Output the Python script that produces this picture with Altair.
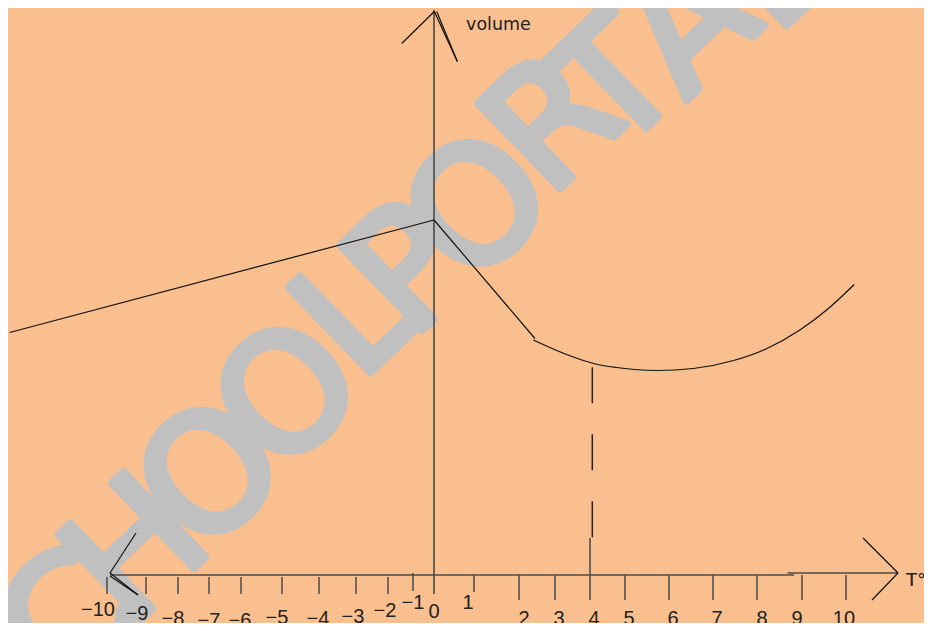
import altair as alt
import pandas as pd

# ---- drawing units: x = temperature-like units (y-axis at 0), y = volume units (x-axis at 0)
X_DOMAIN = [-10.34, 11.893]
Y_DOMAIN = [-0.96, 11.34]

# volume curve pieces
left_x = [-10.30, 0.0]
left_v = [4.85, 7.10]
drop_x = [0.0, 2.45]
drop_v = [7.10, 4.73]
curve_x = [2.41, 3.22, 3.87, 4.43, 5.41, 6.29, 7.27, 8.08, 8.88, 9.53, 10.20]
curve_v = [4.70, 4.41, 4.23, 4.15, 4.09, 4.13, 4.29, 4.53, 4.90, 5.30, 5.81]

# dashed guide at the minimum
dash_x = [3.842]
dash_top = [4.154]
dash_bot = [0.714]

# ticks on the temperature axis
tick_x = [-7.937, -6.990, -6.214, -5.461, -4.684, -3.689, -2.791, -1.893, -1.117,
          -0.510, 0.971, 2.063, 2.937, 3.786, 4.636, 5.704, 6.772, 7.840, 8.932, 10.0, 11.602]
tick_top = [-0.04] * 9 + [0.04, 0.0, 0.0, 0.0, 0.74, 0.0, 0.0, 0.0, 0.0, 0.0, 0.0, 0.04]
tick_bot = [-0.38] * 9 + [-0.32, -0.34] + [-0.5] * 9 + [-0.22]

# tick labels (hand placed in the original drawing)
label_text = ["−10", "−9", "−8", "−7", "−6", "−5", "−4", "−3", "−2", "−1", "0",
              "1", "2", "3", "4", "5", "6", "7", "8", "9", "10"]
label_x = [-8.155, -7.209, -6.335, -5.461, -4.709, -3.811, -2.816, -1.966, -1.189, -0.510, 0.0,
           0.825, 2.184, 3.034, 3.883, 4.733, 5.801, 6.869, 7.961, 8.811, 9.951]
label_y = [-0.70, -0.78, -0.87, -0.92, -0.92, -0.86, -0.88, -0.83, -0.72, -0.56, -0.74,
           -0.56, -0.88, -0.88, -0.88, -0.88, -0.88, -0.88, -0.88, -0.88, -0.88]

# axis lines
axis_x1 = [-7.864, 8.58, 0.0]
axis_y1 = [0.0, 0.04, -0.38]
axis_x2 = [8.74, 11.262, 0.0]
axis_y2 = [0.0, 0.04, 11.30]

# arrow heads
arrow_x1 = [-0.784, 0.008, 0.066, 10.413, 11.262, -7.233, -7.864, -7.864]
arrow_y1 = [10.63, 11.27, 11.27, 0.74, 0.04, 0.84, 0.04, -0.02]
arrow_x2 = [0.008, 0.566, 0.566, 11.262, 10.631, -7.864, -7.184, -7.184]
arrow_y2 = [11.27, 10.27, 10.27, 0.04, -0.50, 0.04, -0.40, -0.40]

# axis titles
title_text = ["volume", "T°C"]
title_x = [0.777, 11.456]
title_y = [10.9, 0.06]

# watermark
wm_letters = ["C", "H", "O", "O", "L", "P", "O", "R", "T", "A", "L"]
wm_x = [-8.84, -7.16, -5.34, -3.47, -1.85, -0.53, 1.14, 2.94, 4.47, 6.25, 8.25]
wm_y = [-1.0, 0.44, 1.94, 3.54, 5.16, 6.06, 7.30, 9.00, 9.76, 10.95, 12.10]

xs = alt.Scale(domain=X_DOMAIN, nice=False, zero=False)
ys = alt.Scale(domain=Y_DOMAIN, nice=False, zero=False)

def X(f="x"):
    return alt.X(f"{f}:Q", scale=xs, axis=None)

def Y(f="y"):
    return alt.Y(f"{f}:Q", scale=ys, axis=None)

wm_df = pd.DataFrame({"t": wm_letters, "x": wm_x, "y": wm_y})
watermark = alt.Chart(wm_df).mark_text(
    font="DejaVu Sans", fontSize=162, angle=316, align="center",
    baseline="middle", color="#c0c0c0", stroke="#c0c0c0", strokeWidth=8,
    strokeJoin="round"
).encode(x=X(), y=Y(), text="t:N")

axis_df = pd.DataFrame({"x": axis_x1, "y": axis_y1, "x2": axis_x2, "y2": axis_y2})
axes = alt.Chart(axis_df).mark_rule(color="#4a4a4a", strokeWidth=1.6).encode(
    x=X(), y=Y(), x2="x2:Q", y2="y2:Q")

arrow_df = pd.DataFrame({"x": arrow_x1, "y": arrow_y1, "x2": arrow_x2, "y2": arrow_y2})
arrows = alt.Chart(arrow_df).mark_rule(color="#111111", strokeWidth=1.2).encode(
    x=X(), y=Y(), x2="x2:Q", y2="y2:Q")

tick_df = pd.DataFrame({"x": tick_x, "y": tick_top, "y2": tick_bot})
ticks = alt.Chart(tick_df).mark_rule(color="#4a4a4a", strokeWidth=1.5).encode(
    x=X(), y=Y(), y2="y2:Q")

dash_df = pd.DataFrame({"x": dash_x, "y": dash_top, "y2": dash_bot})
dash = alt.Chart(dash_df).mark_rule(color="#222222", strokeWidth=1.5, strokeDash=[36, 31]).encode(
    x=X(), y=Y(), y2="y2:Q")

rows = []
for i, (a, b) in enumerate(zip(left_x, left_v)):
    rows.append({"seg": "a", "o": i, "x": a, "y": b})
for i, (a, b) in enumerate(zip(drop_x, drop_v)):
    rows.append({"seg": "b", "o": i, "x": a, "y": b})
for i, (a, b) in enumerate(zip(curve_x, curve_v)):
    rows.append({"seg": "c", "o": i, "x": a, "y": b})
curve_df = pd.DataFrame(rows)
curve = alt.Chart(curve_df).mark_line(color="#111111", strokeWidth=1.2, interpolate="monotone").encode(
    x=X(), y=Y(), detail="seg:N", order="o:Q")

lab_df = pd.DataFrame({"t": label_text, "x": label_x, "y": label_y})
labels = alt.Chart(lab_df).mark_text(
    font="Liberation Sans", fontSize=20,
    align="center", baseline="middle", color="#222222"
).encode(x=X(), y=Y(), text="t:N")

tit_df = pd.DataFrame({"t": title_text, "x": title_x, "y": title_y})
titles_v = alt.Chart(tit_df.iloc[[0]]).mark_text(
    font="DejaVu Sans", fontSize=17.5, align="left", baseline="alphabetic", color="#222222"
).encode(x=X(), y=Y(), text="t:N")
titles_t = alt.Chart(tit_df.iloc[[1]]).mark_text(
    font="DejaVu Sans", fontSize=18, align="left", baseline="top", color="#222222"
).encode(x=X(), y=Y(), text="t:N")

chart = alt.layer(watermark, axes, ticks, dash, curve, arrows, labels, titles_v, titles_t).properties(
    width=916, height=615, padding=0, autosize=alt.AutoSizeParams(type="none")
).configure(background="#f9bf8f").configure_view(stroke=None)

chart.save("out.html", embed_options={"renderer": "svg", "actions": False})
